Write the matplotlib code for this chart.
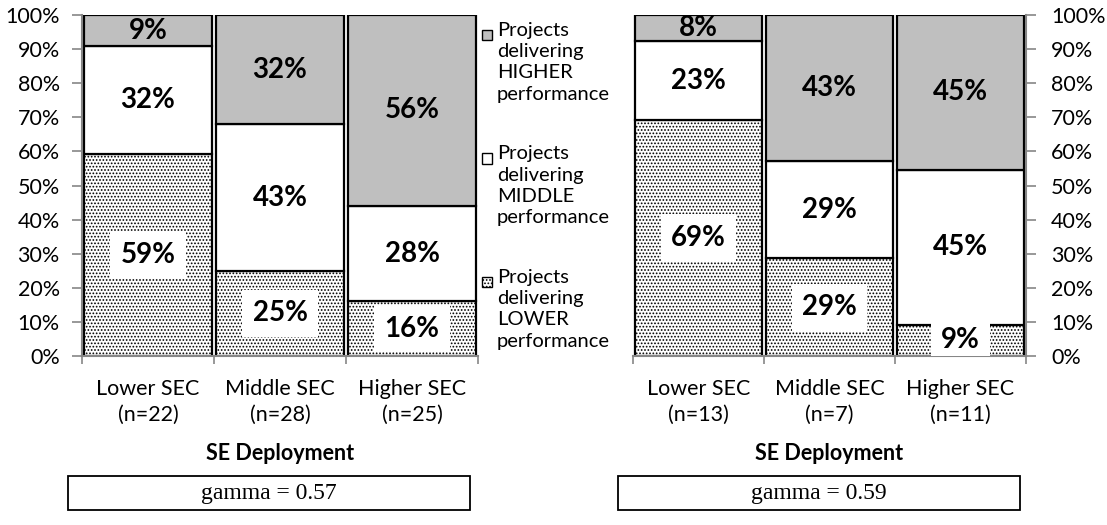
import matplotlib.pyplot as plt
from matplotlib.patches import Rectangle

plt.rcParams['font.family'] = ['Lato', 'DejaVu Sans']
plt.rcParams['hatch.linewidth'] = 0.8

# Data (percent of projects in each SE deployment group)
categories = ["Lower SEC", "Middle SEC", "Higher SEC"]
left_n = [22, 28, 25]
right_n = [13, 7, 11]
left_lower = [59.1, 25.0, 16.0]
left_middle = [31.8, 42.9, 28.0]
left_higher = [9.1, 32.1, 56.0]
right_lower = [69.2, 28.6, 9.2]
right_middle = [23.1, 28.6, 45.4]
right_higher = [7.7, 42.8, 45.4]
gammas = [0.57, 0.59]

W, H = 1107, 525
GRAY = '#bfbfbf'
AXGRAY = '#868686'

fig = plt.figure(figsize=(W / 100, H / 100), dpi=100)


def px_rect(x0, y0, x1, y1):
    # figure fraction rect from pixel coords (top-left origin)
    return [x0 / W, 1 - y1 / H, (x1 - x0) / W, (y1 - y0) / H]


def draw_panel(ax, lower, middle, higher, ns, side):
    x = range(len(categories))
    bot2 = [a + b for a, b in zip(lower, middle)]
    kw = dict(width=0.965, edgecolor='black', linewidth=1.6)
    ax.bar(x, lower, color='white', hatch='.....', **kw)
    ax.bar(x, middle, bottom=lower, color='white', **kw)
    ax.bar(x, higher, bottom=bot2, color=GRAY, **kw)

    for i in x:
        segs = [(0, lower[i], True), (lower[i], middle[i], False),
                (bot2[i], higher[i], False)]
        for b, h, boxed in segs:
            t = ax.text(i, b + h / 2, f"{h:.0f}%", ha='center', va='center',
                        fontsize=20, fontweight='bold', clip_on=True)
            if boxed:
                t.set_bbox(dict(facecolor='white', edgecolor='none',
                                boxstyle='square,pad=0.38'))

    ax.set_xlim(-0.5, 2.5)
    ax.set_ylim(0, 100)
    ax.set_yticks(range(0, 101, 10))
    ax.set_yticklabels([f"{v}%" for v in range(0, 101, 10)])
    ax.set_xticks([-0.5, 0.5, 1.5, 2.5])
    ax.set_xticklabels([])
    ax.set_xticks(list(x), [f"{c}\n(n={n})" for c, n in zip(categories, ns)],
                  minor=True)
    ax.tick_params(axis='x', which='major', length=6, color=AXGRAY, width=1.2)
    ax.tick_params(axis='x', which='minor', length=0, pad=16.5, labelsize=15.5)
    for lab in ax.get_xticklabels(minor=True):
        lab.set_linespacing(1.35)
    ax.tick_params(axis='y', length=7, color=AXGRAY, width=1.2, labelsize=15.5)
    for s in ax.spines.values():
        s.set_visible(False)
    ax.spines['bottom'].set_visible(True)
    ax.spines['bottom'].set_color(AXGRAY)
    ax.spines['bottom'].set_linewidth(1.5)
    if side == 'left':
        ax.spines['left'].set_visible(True)
        ax.spines['left'].set_color(AXGRAY)
        ax.spines['left'].set_linewidth(1.5)
        ax.tick_params(axis='y', pad=9)
    else:
        ax.yaxis.tick_right()
        ax.spines['right'].set_visible(True)
        ax.spines['right'].set_color(AXGRAY)
        ax.spines['right'].set_linewidth(1.5)
        ax.tick_params(axis='y', pad=11)


ax1 = fig.add_axes(px_rect(82, 15, 478, 356))
ax2 = fig.add_axes(px_rect(633, 15, 1026, 356))
draw_panel(ax1, left_lower, left_middle, left_higher, left_n, 'left')
draw_panel(ax2, right_lower, right_middle, right_higher, right_n, 'right')

# x axis titles
for cx in [280, 829]:
    fig.text(cx / W, 1 - 453 / H, "SE Deployment", ha='center', va='center',
             fontsize=15.5, fontweight='bold')

# gamma boxes
for (x0, x1), g in zip([(68, 470), (618, 1020)], gammas):
    r = px_rect(x0, 476, x1, 510)
    fig.add_artist(Rectangle((r[0], r[1]), r[2], r[3], transform=fig.transFigure,
                             facecolor='white', edgecolor='black', linewidth=1.3))
    fig.text((x0 + x1) / 2 / W, 1 - 493 / H, f"gamma = {g}", ha='center',
             va='center', fontsize=17, family='Liberation Serif')

# legend (drawn by hand so the marker sits at the first text line)
legend_items = [("HIGHER", GRAY, None), ("MIDDLE", 'white', None),
                ("LOWER", 'white', '.....')]
for k, (name, fc, hatch) in enumerate(legend_items):
    yc = 35 + k * 123.5
    r = px_rect(482, yc - 5, 492, yc + 5)
    fig.add_artist(Rectangle((r[0], r[1]), r[2], r[3], transform=fig.transFigure,
                             facecolor=fc, edgecolor='black', linewidth=1.0,
                             hatch=hatch))
    fig.text(497 / W, 1 - (yc - 13) / H,
             f"Projects\ndelivering\n{name}\nperformance",
             ha='left', va='top', fontsize=14.5, linespacing=1.3)

fig.savefig("out.png", dpi=100)
